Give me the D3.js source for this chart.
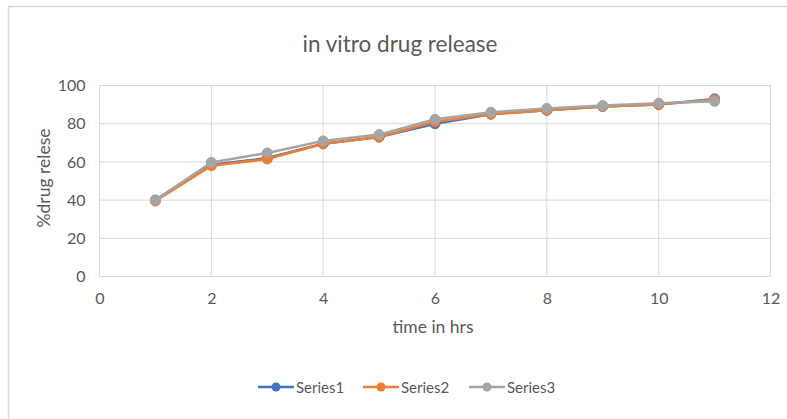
<!DOCTYPE html>
<html><head><meta charset="utf-8">
<script src="https://cdn.jsdelivr.net/npm/d3@7"></script>
<style>
body{margin:0;background:#fff;}
svg text{font-family:Lato,"Open Sans",sans-serif;}
</style></head>
<body><svg id="c" width="787" height="419"></svg>
<script>
const hours = [1,2,3,4,5,6,7,8,9,10,11];
const series1 = [40,58.5,62,69.5,73,80,85,87,89,90,93];
const series2 = [39.5,58,61.5,69.5,73,81,85,87,89,90,92.5];
const series3 = [40,59.7,64.7,71,74.3,82.3,86,88,89.5,90.7,91.7];
const seriesNames = ["Series1","Series2","Series3"];
const seriesColors = ["#4472C4","#ED7D31","#A5A5A5"];
const xTicks = [0,2,4,6,8,10,12];
const yTicks = [0,20,40,60,80,100];

const svg = d3.select("#c");
// outer chart border
svg.append("path").attr("d","M787,6.5 H8.5 V419").attr("fill","none").attr("stroke","#d9d9d9").attr("stroke-width",1.5);

const x = d3.scaleLinear().domain([0,12]).range([99.5,770.5]);
const y = d3.scaleLinear().domain([0,100]).range([276.5,85.5]);

// gridlines
svg.append("g").selectAll("line").data(yTicks).join("line")
  .attr("x1",x(0)).attr("x2",x(12)).attr("y1",d=>y(d)).attr("y2",d=>y(d))
  .attr("stroke","#d9d9d9").attr("stroke-width",1);
svg.append("g").selectAll("line").data(xTicks).join("line")
  .attr("y1",y(0)).attr("y2",y(100)).attr("x1",d=>x(d)).attr("x2",d=>x(d))
  .attr("stroke","#d9d9d9").attr("stroke-width",1);

// axes labels via d3 axes
const yAxis = svg.append("g").attr("transform",`translate(${x(0)},0)`)
  .call(d3.axisLeft(y).tickValues(yTicks).tickSize(0).tickPadding(14));
const xAxis = svg.append("g").attr("transform",`translate(0,${y(0)})`)
  .call(d3.axisBottom(x).tickValues(xTicks).tickSize(0).tickPadding(16));
[yAxis,xAxis].forEach(a=>{
  a.select(".domain").remove();
  a.selectAll("text").attr("fill","#595959").style("font-size","16px").style("font-family","Lato,'Open Sans',sans-serif");
});

// title
svg.append("text").attr("x",400).attr("y",52).attr("text-anchor","middle")
  .attr("fill","#595959").style("font-size","22.5px").text("in vitro drug release");
// axis titles
svg.append("text").attr("x",433).attr("y",333).attr("text-anchor","middle")
  .attr("fill","#595959").style("font-size","17.5px").text("time in hrs");
svg.append("text").attr("transform","translate(50,178) rotate(-90)").attr("text-anchor","middle")
  .attr("fill","#595959").style("font-size","17.5px").text("%drug relese");

const data = [series1,series2,series3];
const line = d3.line().x((d,i)=>x(hours[i])).y(d=>y(d));
data.forEach((s,k)=>{
  svg.append("path").datum(s).attr("d",line).attr("fill","none")
    .attr("stroke",seriesColors[k]).attr("stroke-width",2.5).attr("stroke-linejoin","round");
  svg.append("g").selectAll("circle").data(s).join("circle")
    .attr("cx",(d,i)=>x(hours[i])).attr("cy",d=>y(d)).attr("r",5)
    .attr("fill",seriesColors[k]).attr("stroke",seriesColors[k]);
});

// legend
const legX = [258,363,469];
const lg = svg.append("g").selectAll("g").data(seriesNames).join("g")
  .attr("transform",(d,i)=>`translate(${legX[i]},387)`);
lg.append("line").attr("x1",0).attr("x2",36).attr("stroke",(d,i)=>seriesColors[i]).attr("stroke-width",2.5);
lg.append("circle").attr("cx",18).attr("r",4.5).attr("fill",(d,i)=>seriesColors[i]);
lg.append("text").attr("x",38).attr("y",5.5).attr("fill","#595959").style("font-size","15px").text(d=>d);
</script></body></html>
